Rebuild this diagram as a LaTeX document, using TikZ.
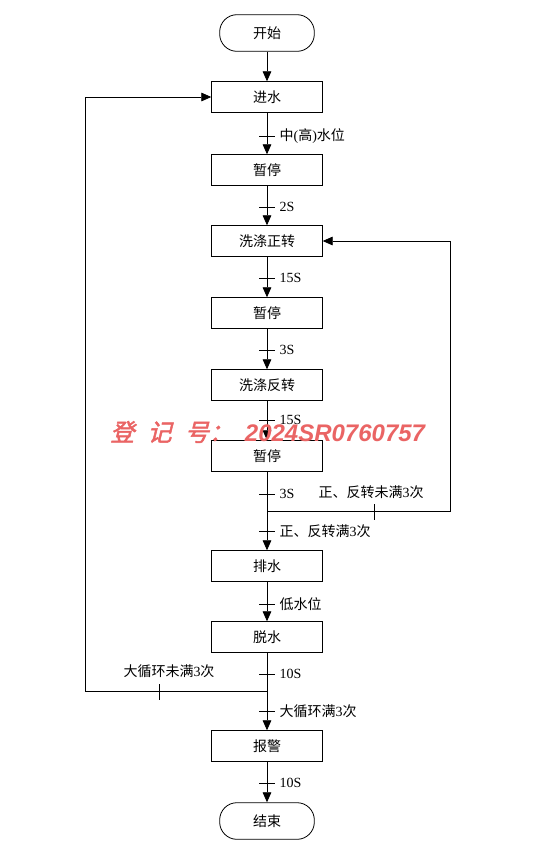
\documentclass[tikz,border=0pt]{standalone}
\usepackage{fontspec}
\setmainfont{Liberation Serif}
\setsansfont{Liberation Sans}
\newfontfamily\cjk{Noto Sans CJK SC}
\newfontfamily\wmcjk[FakeSlant=0.25,FakeBold=2]{Noto Sans CJK SC}
\usetikzlibrary{arrows.meta}
\definecolor{wmred}{RGB}{234,100,100}
\begin{document}
\begin{tikzpicture}[x=0.75pt,y=-0.75pt,
  txt/.style={font=\cjk\fontsize{10.5}{12}\selectfont},
  box/.style={draw, line width=0.6pt, minimum width=83pt, minimum height=23pt, inner sep=0pt, txt},
  term/.style={box, rounded corners=13pt, minimum width=71pt, minimum height=27.5pt},
  arr/.style={-{Triangle[length=7.5pt,width=6.5pt]}, line width=0.6pt},
  ln/.style={line width=0.6pt},
  lab/.style={anchor=west, inner sep=1pt, txt},
]
\useasboundingbox (0,0) rectangle (534,858);
\fill[white] (0,0) rectangle (534,858);

% nodes
\node[term] (start) at (267,33) {开始};
\node[box] (in) at (267,97) {进水};
\node[box] (p1) at (267,170) {暂停};
\node[box] (wf) at (267,241) {洗涤正转};
\node[box] (p2) at (267,313) {暂停};
\node[box] (wr) at (267,385) {洗涤反转};
\node[box] (p3) at (267,456) {暂停};
\node[box] (dr) at (267,566) {排水};
\node[box] (sp) at (267,637) {脱水};
\node[box] (al) at (267,746) {报警};
\node[term] (end) at (267,821) {结束};

% junctions
\coordinate (j1) at (267,511);
\coordinate (r1) at (450,511);
\coordinate (j2) at (267,691);
\coordinate (l1) at (85,691);

% main connectors
\draw[arr] (start) -- (in);
\draw[arr] (in) -- (p1);
\draw[arr] (p1) -- (wf);
\draw[arr] (wf) -- (p2);
\draw[arr] (p2) -- (wr);
\draw[arr] (wr) -- (p3);
\draw[arr] (p3) -- (dr);
\draw[arr] (dr) -- (sp);
\draw[arr] (sp) -- (al);
\draw[arr] (al) -- (end);

% loops
\draw[arr] (j1) -- (r1) |- (wf.east);
\draw[arr] (j2) -- (l1) |- (in.west);

% ticks on vertical line
\foreach \yy in {136,207,278,350,420,494,531,604,674,711,783}
  \draw[ln] (259,\yy) -- (275,\yy);
% ticks on loop lines
\draw[ln] (374,504) -- (374,520);
\draw[ln] (159,684) -- (159,700);

% labels
\node[lab] (t1) at (278,136) {中{\rmfamily(}高{\rmfamily)}水位};
\node[lab] (t2) at (278,207) {\rmfamily 2S};
\node[lab] (t3) at (278,278) {\rmfamily 15S};
\node[lab] (t4) at (278,350) {\rmfamily 3S};
\node[lab] (t5) at (278,420) {\rmfamily 15S};
\node[lab] (t6) at (278,494) {\rmfamily 3S};
\node[lab] (t7) at (278,531) {正、反转满{\rmfamily 3}次};
\node[lab] (t8) at (278,604) {低水位};
\node[lab] (t9) at (278,674) {\rmfamily 10S};
\node[lab] (t10) at (278,711) {大循环满{\rmfamily 3}次};
\node[lab] (t11) at (278,783) {\rmfamily 10S};
\node[txt, inner sep=1pt] (t12) at (371,492) {正、反转未满{\rmfamily 3}次};
\node[txt, inner sep=1pt] (t13) at (169,671) {大循环未满{\rmfamily 3}次};

% watermark
\node[text=wmred, inner sep=0pt, anchor=west] (wm) at (110,432)
  {\fontsize{18}{20}\selectfont\wmcjk 登\hspace{10pt}记\hspace{10pt}号：\hspace{9pt}{\sffamily\bfseries\itshape 2024SR0760757}};
\end{tikzpicture}
\end{document}
